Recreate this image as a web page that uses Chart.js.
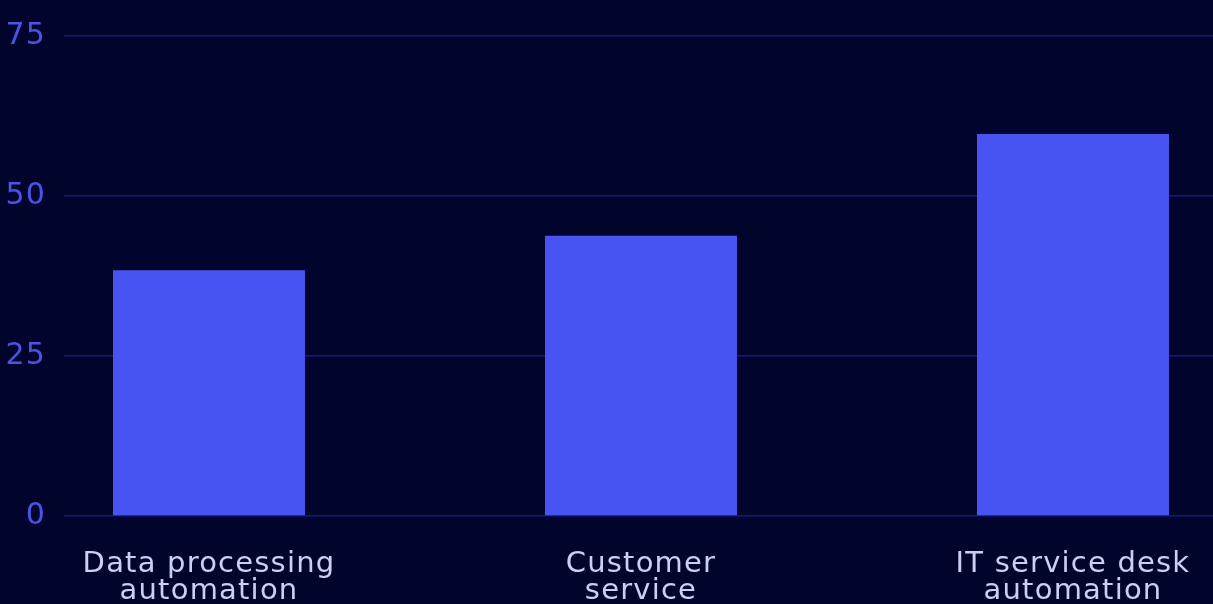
<!DOCTYPE html>
<html>
<head>
<meta charset="utf-8">
<script src="https://cdn.jsdelivr.net/npm/chart.js@4.4.0/dist/chart.umd.min.js"></script>
<style>
  html, body { margin: 0; padding: 0; background: #01052B; overflow: hidden; }
  #wrap { width: 1213px; height: 604px; position: relative; }
</style>
</head>
<body>
<div id="wrap"><canvas id="c" width="1213" height="604"></canvas></div>
<script>
// ---- data ----
const categories = ["Data processing automation", "Customer service", "IT service desk automation"];
const categoryLines = [["Data processing", "automation"], ["Customer", "service"], ["IT service desk", "automation"]];
const values = [38.4, 43.8, 59.7];
const yTicks = [0, 25, 50, 75];

const FONT = "'DejaVu Sans', sans-serif";

const spacingPlugin = {
  id: 'spacing',
  beforeDraw(chart) { chart.ctx.letterSpacing = '1.2px'; },
  afterDraw(chart) { chart.ctx.letterSpacing = '0px'; }
};

new Chart(document.getElementById('c'), {
  type: 'bar',
  data: {
    datasets: [{
      label: 'Share',
      data: values.map((v, i) => ({ x: i, y: v })),
      backgroundColor: '#4854F2',
      borderWidth: 0,
      categoryPercentage: 1,
      barPercentage: 0.4444
    }]
  },
  plugins: [spacingPlugin],
  options: {
    responsive: false,
    animation: false,
    layout: { padding: { top: 35, left: 0, right: 0, bottom: 0 } },
    plugins: { legend: { display: false }, tooltip: { enabled: false } },
    scales: {
      x: {
        type: 'linear',
        offset: false,
        min: -0.3356,
        max: 2.3241,
        grid: { display: false, drawTicks: false },
        border: { display: false },
        afterBuildTicks: (axis) => { axis.ticks = categories.map((_, i) => ({ value: i })); },
        afterFit: (axis) => { axis.height = 88; axis.paddingLeft = 0; axis.paddingRight = 0; },
        ticks: {
          autoSkip: false,
          maxRotation: 0,
          padding: 35,
          color: '#CBCFF6',
          font: { family: FONT, size: 29, lineHeight: 0.93 },
          callback: (v) => categoryLines[v] || ''
        }
      },
      y: {
        min: 0,
        max: 75,
        afterBuildTicks: (axis) => { axis.ticks = yTicks.map(v => ({ value: v })); },
        afterFit: (axis) => { axis.width = 64; },
        grid: { color: '#0E1A8C', lineWidth: 1.5, drawTicks: false },
        border: { display: false },
        ticks: {
          padding: 18,
          color: '#4A54EC',
          font: { family: FONT, size: 30 }
        }
      }
    }
  }
});
</script>
</body>
</html>
